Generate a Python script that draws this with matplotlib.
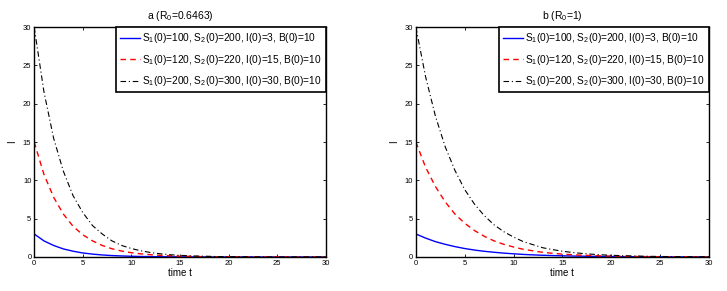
import matplotlib.pyplot as plt

plt.rcParams['font.family'] = ['Liberation Sans', 'DejaVu Sans']
plt.rcParams['mathtext.fontset'] = 'custom'
plt.rcParams['mathtext.rm'] = 'Liberation Sans'
plt.rcParams['mathtext.it'] = 'Liberation Sans'

t = list(range(31))

# panel a (R0=0.6463)
a_blue = [3, 2.1, 1.5, 1.05, 0.75, 0.52, 0.37, 0.26, 0.18, 0.13, 0.09, 0.06, 0.045, 0.03, 0.02, 0.015,
          0.01, 0.01, 0, 0, 0, 0, 0, 0, 0, 0, 0, 0, 0, 0, 0]
a_red = [15, 10.8, 7.8, 5.6, 4.0, 2.9, 2.1, 1.5, 1.07, 0.77, 0.55, 0.4, 0.29, 0.21, 0.15, 0.1,
         0.08, 0.05, 0.04, 0.03, 0.02, 0.01, 0.01, 0, 0, 0, 0, 0, 0, 0, 0]
a_black = [30, 21.6, 15.5, 11.2, 8.0, 5.8, 4.1, 3.0, 2.1, 1.5, 1.1, 0.8, 0.57, 0.41, 0.29, 0.21,
           0.15, 0.11, 0.08, 0.05, 0.04, 0.03, 0.02, 0.01, 0, 0, 0, 0, 0, 0, 0]

# panel b (R0=1)
b_blue = [3, 2.46, 2.0, 1.65, 1.35, 1.1, 0.9, 0.74, 0.61, 0.5, 0.41, 0.33, 0.27, 0.22, 0.18, 0.15,
          0.12, 0.1, 0.08, 0.07, 0.05, 0.04, 0.03, 0.03, 0.02, 0.02, 0.01, 0.01, 0.01, 0.01, 0]
b_red = [15, 11.7, 9.2, 7.2, 5.6, 4.4, 3.45, 2.7, 2.1, 1.65, 1.3, 1.0, 0.8, 0.6, 0.48, 0.37,
         0.29, 0.23, 0.18, 0.14, 0.11, 0.09, 0.07, 0.05, 0.04, 0.03, 0.03, 0.02, 0.02, 0.01, 0.01]
b_black = [30, 23.5, 18.4, 14.4, 11.3, 8.8, 6.9, 5.4, 4.2, 3.3, 2.6, 2.0, 1.6, 1.2, 0.96, 0.75,
           0.59, 0.46, 0.36, 0.28, 0.22, 0.17, 0.14, 0.11, 0.08, 0.06, 0.05, 0.04, 0.03, 0.02, 0.02]

labels = ['S$_1$(0)=100, S$_2$(0)=200, I(0)=3, B(0)=10',
          'S$_1$(0)=120, S$_2$(0)=220, I(0)=15, B(0)=10',
          'S$_1$(0)=200, S$_2$(0)=300, I(0)=30, B(0)=10']
titles = ['a (R$_0$=0.6463)', 'b (R$_0$=1)']

fig = plt.figure(figsize=(7.27, 2.91), dpi=100)
ax1 = fig.add_axes([0.047, 0.117, 0.401, 0.790])
ax2 = fig.add_axes([0.572, 0.117, 0.403, 0.790])

for ax, blue, red, black, title in [(ax1, a_blue, a_red, a_black, titles[0]),
                                     (ax2, b_blue, b_red, b_black, titles[1])]:
    ax.plot(t, blue, color='#0000ff', lw=1, label=labels[0])
    ax.plot(t, red, color='#ff0000', lw=1, ls=(0, (4, 3)), label=labels[1])
    ax.plot(t, black, color='black', lw=0.8, ls=(0, (5, 2.5, 1, 2.5)), label=labels[2])
    ax.set_xlim(0, 30)
    ax.set_ylim(0, 30)
    ax.set_xticks(range(0, 31, 5))
    ax.set_yticks(range(0, 31, 5))
    ax.tick_params(direction='in', top=True, right=True, labelsize=5.5, length=2.5, width=0.6, pad=2)
    for s in ax.spines.values():
        s.set_linewidth(1.0)
    ax.set_title(title, fontsize=7.5, pad=6)
    ax.set_xlabel('time t', fontsize=7, labelpad=1)
    ax.set_ylabel('I', fontsize=7, labelpad=4)
    leg = ax.legend(loc='upper right', fontsize=7.3, fancybox=False, framealpha=1,
                    edgecolor='black', borderaxespad=0, handlelength=2.0,
                    handletextpad=0.2, labelspacing=0.75, borderpad=0.4)
    leg.get_frame().set_linewidth(1.2)

fig.savefig('out.png', dpi=100)
